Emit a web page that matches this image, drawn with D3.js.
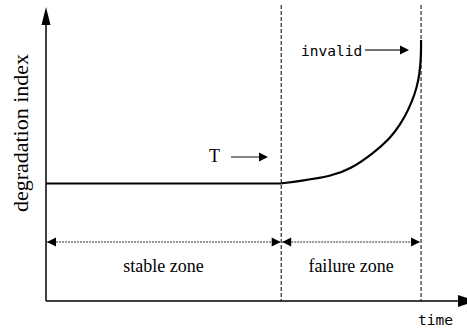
<!DOCTYPE html>
<html>
<head>
<meta charset="utf-8">
<script src="https://cdn.jsdelivr.net/npm/d3@7"></script>
<style>
  body { margin: 0; background: #fff; }
  svg { display: block; }
  .serif { font-family: "Liberation Serif", "DejaVu Serif", "Times New Roman", serif; }
  .mono { font-family: "DejaVu Sans Mono", "Liberation Mono", monospace; }
</style>
</head>
<body>
<div id="chart"></div>
<script>

// data (time, degradation index) in arbitrary units
var stableLevel = 40;
var timeT = 56;
var timeInvalid = 89.3;
var flatPart = [[0, 40], [56, 40]];
var failurePart = [[56, 40], [60.5, 40.8], [68, 42.5], [72.4, 44.8], [77.9, 50.2], [81.9, 55.3],
                   [84.3, 59.9], [86.3, 65], [87.9, 70.7], [88.7, 75.2], [89.1, 79.7], [89.3, 84], [89.3, 88.8]];
var zoneLabels = ["stable zone", "failure zone"];
var axisLabels = ["time", "degradation index"];
var markerLabels = ["T", "invalid"];

var W = 467, H = 330;

var svg = d3.select("#chart").append("svg")
    .attr("width", W)
    .attr("height", H);

var x = d3.scaleLinear().domain([0, 100]).range([46, 466]);
var y = d3.scaleLinear().domain([0, 100]).range([301, 7]);

// filled triangle pointing in direction (dx,dy) with tip at (tx,ty)
function arrowHead(tx, ty, dx, dy, len, half) {
    var bx = tx - dx * len, by = ty - dy * len;
    var px = -dy * half, py = dx * half;
    svg.append("path")
        .attr("d", "M" + tx + "," + ty + "L" + (bx + px) + "," + (by + py) + "L" + (bx - px) + "," + (by - py) + "Z")
        .style("fill", "black");
}

// axes
svg.append("line")
    .attr("x1", x(0)).attr("y1", y(0))
    .attr("x2", x(0)).attr("y2", y(100) + 10)
    .attr("stroke", "black").attr("stroke-width", 1.5);
arrowHead(x(0), y(100), 0, -1, 18, 4.5);

svg.append("line")
    .attr("x1", x(0)).attr("y1", y(0))
    .attr("x2", 462).attr("y2", y(0))
    .attr("stroke", "black").attr("stroke-width", 1.5);
arrowHead(476, y(0), 1, 0, 18, 6);

// zone boundaries
[timeT, timeInvalid].forEach(function(t) {
    svg.append("line")
        .attr("x1", x(t)).attr("y1", 5)
        .attr("x2", x(t)).attr("y2", y(0))
        .attr("stroke", "black")
        .attr("stroke-width", 1)
        .attr("stroke-dasharray", "4,2");
});

// degradation curve
var line = d3.line().x(function(d) { return x(d[0]); }).y(function(d) { return y(d[1]); });
svg.append("path")
    .attr("d", line(flatPart))
    .style("fill", "none").style("stroke", "black").style("stroke-width", 2);
svg.append("path")
    .attr("d", line.curve(d3.curveBasis)(failurePart))
    .style("fill", "none").style("stroke", "black").style("stroke-width", 2.2);

// zone extents (double-headed dotted arrows)
var zoneY = 242;
var zones = [[0, timeT], [timeT, timeInvalid]];
zones.forEach(function(z, i) {
    var x1 = x(z[0]) + 1, x2 = x(z[1]) - 0.5;
    if (i === 1) { x2 = x(z[1]) - 1; }
    svg.append("line")
        .attr("x1", x1).attr("y1", zoneY)
        .attr("x2", x2).attr("y2", zoneY)
        .attr("stroke", "#333")
        .attr("stroke-width", 1)
        .attr("stroke-dasharray", "2,1");
    arrowHead(x1, zoneY, -1, 0, 9, 4.5);
    arrowHead(x2, zoneY, 1, 0, 9, 4.5);
    svg.append("text")
        .attr("class", "serif")
        .attr("x", (x(z[0]) + x(z[1])) / 2)
        .attr("y", 272)
        .attr("text-anchor", "middle")
        .attr("font-size", 18)
        .text(zoneLabels[i]);
});

// T marker
svg.append("text")
    .attr("class", "serif")
    .attr("x", 209).attr("y", 162)
    .attr("font-size", 18)
    .text(markerLabels[0]);
svg.append("line")
    .attr("x1", 231).attr("y1", 157).attr("x2", 261).attr("y2", 157)
    .attr("stroke", "#444").attr("stroke-width", 1.3);
arrowHead(268, 157, 1, 0, 9, 4.5);

// invalid marker
svg.append("text")
    .attr("class", "mono")
    .attr("x", 301).attr("y", 56)
    .attr("font-size", 14.5)
    .text(markerLabels[1]);
svg.append("line")
    .attr("x1", 365).attr("y1", 50).attr("x2", 401).attr("y2", 50)
    .attr("stroke", "#444").attr("stroke-width", 1.3);
arrowHead(409, 50, 1, 0, 9, 4.5);

// axis titles
svg.append("text")
    .attr("class", "mono")
    .attr("x", 418).attr("y", 325)
    .attr("font-size", 14.5)
    .text(axisLabels[0]);

svg.append("text")
    .attr("class", "serif")
    .attr("transform", "translate(28,133) rotate(-90)")
    .attr("text-anchor", "middle")
    .attr("font-size", 22)
    .text(axisLabels[1]);

</script>
</body>
</html>
